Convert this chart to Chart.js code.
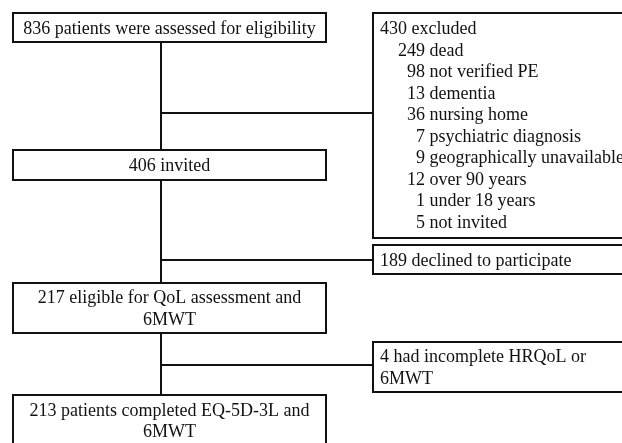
<!DOCTYPE html>
<html>
<head>
<meta charset="utf-8">
<script src="https://cdn.jsdelivr.net/npm/chart.js@4"></script>
<style>
  html, body { margin: 0; padding: 0; background: #fff; }
  canvas { display: block; }
</style>
</head>
<body>
<canvas id="flow" width="622" height="443"></canvas>
<script>
// main path, one entry per box (lines of text)
const stageLines = [
    ['836 patients were assessed for eligibility'],
    ['406 invited'],
    ['217 eligible for QoL assessment and', '6MWT'],
    ['213 patients completed EQ-5D-3L and', '6MWT']
];

// side boxes
const excludedLines = [
    '430 excluded',
    '    249 dead',
    '      98 not verified PE',
    '      13 dementia',
    '      36 nursing home',
    '        7 psychiatric diagnosis',
    '        9 geographically unavailable',
    '      12 over 90 years',
    '        1 under 18 years',
    '        5 not invited'
];
const declinedLines = ['189 declined to participate'];
const incompleteLines = ['4 had incomplete HRQoL or', '6MWT'];

// layout, in canvas units (x 0..622, y 0..443 top down)
const mainBoxes = [
    {x0: 13, x1: 326, y0: 13, y1: 42},
    {x0: 13, x1: 326, y0: 150, y1: 180},
    {x0: 13, x1: 326, y0: 283, y1: 333},
    {x0: 13, x1: 326, y0: 395, y1: 446}
];
const sideBoxes = [
    {x0: 373, x1: 625, y0: 13, y1: 238, lines: excludedLines, joinY: 113},
    {x0: 373, x1: 625, y0: 245, y1: 274, lines: declinedLines, joinY: 260},
    {x0: 373, x1: 625, y0: 342, y1: 392, lines: incompleteLines, joinY: 365}
];
const spineX = 161;
const lineGap = 21.5;
const textNudge = 1.5; // serif 'middle' sits a bit high

const flowPlugin = {
    id: 'flow',
    afterDraw(chart) {
        const ctx = chart.ctx;
        const sx = chart.scales.x, sy = chart.scales.y;
        const px = v => sx.getPixelForValue(v);
        const py = v => sy.getPixelForValue(v);

        ctx.save();
        ctx.strokeStyle = '#111';
        ctx.fillStyle = '#111';
        ctx.lineWidth = 2;
        ctx.font = '18px "Liberation Serif", "Times New Roman", serif';
        ctx.textBaseline = 'middle';

        function box(b) {
            ctx.strokeRect(px(b.x0), py(b.y0), px(b.x1) - px(b.x0), py(b.y1) - py(b.y0));
        }
        function line(x0, y0, x1, y1) {
            ctx.beginPath();
            ctx.moveTo(px(x0), py(y0));
            ctx.lineTo(px(x1), py(y1));
            ctx.stroke();
        }

        // spine between main boxes
        for (let i = 0; i < mainBoxes.length - 1; i++) {
            line(spineX, mainBoxes[i].y1, spineX, mainBoxes[i + 1].y0);
        }
        // branches to side boxes
        sideBoxes.forEach(b => line(spineX, b.joinY, b.x0, b.joinY));

        // main boxes, centred text
        ctx.textAlign = 'center';
        mainBoxes.forEach((b, i) => {
            box(b);
            const lines = stageLines[i];
            const cx = (b.x0 + b.x1) / 2;
            const cy = (b.y0 + b.y1) / 2 + textNudge;
            lines.forEach((t, k) => {
                const y = cy + (k - (lines.length - 1) / 2) * lineGap;
                ctx.fillText(t, px(cx), py(y));
            });
        });

        // side boxes, left aligned text
        ctx.textAlign = 'left';
        sideBoxes.forEach(b => {
            box(b);
            const lines = b.lines;
            const first = (lines.length > 2
                ? b.y0 + 15
                : (b.y0 + b.y1) / 2 - (lines.length - 1) / 2 * lineGap) + textNudge;
            lines.forEach((t, k) => {
                ctx.fillText(t, px(b.x0 + 7), py(first + k * lineGap));
            });
        });
        ctx.restore();
    }
};

new Chart(document.getElementById('flow'), {
    type: 'scatter',
    data: { datasets: [] },
    options: {
        responsive: false,
        animation: false,
        devicePixelRatio: 1,
        layout: { padding: 0 },
        plugins: { legend: { display: false }, tooltip: { enabled: false } },
        scales: {
            x: { type: 'linear', min: 0, max: 622, display: false },
            y: { type: 'linear', min: 0, max: 443, reverse: true, display: false }
        }
    },
    plugins: [flowPlugin]
});
</script>
</body>
</html>
